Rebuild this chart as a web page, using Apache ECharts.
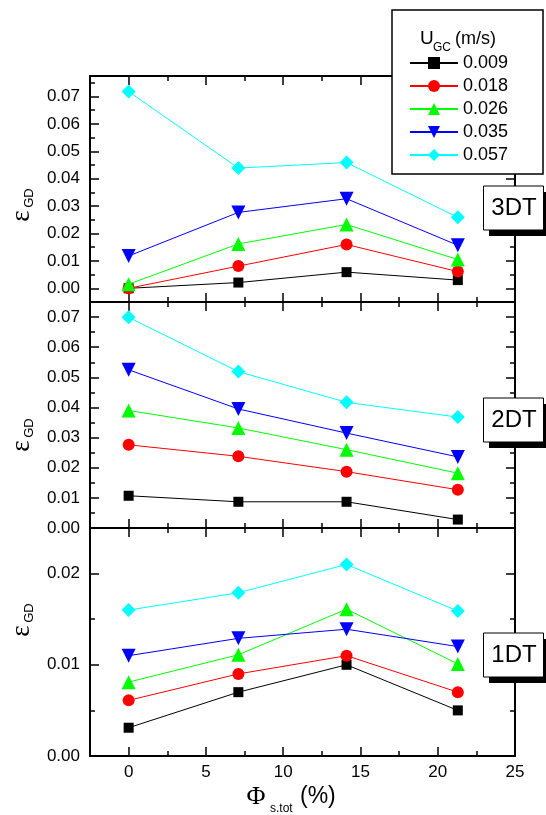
<!DOCTYPE html>
<html><head><meta charset="utf-8">
<script src="https://cdn.jsdelivr.net/npm/echarts@6/dist/echarts.min.js"></script>
<style>html,body{margin:0;padding:0;background:#fff}#c{width:546px;height:815px}</style>
</head><body><div id="c"></div>
<script>
// ---- data ----
const phi = [0, 7.1, 14.1, 21.3];
const ugcNames = ['0.009', '0.018', '0.026', '0.035', '0.057'];
// 3DT (top panel)
const dt3_u009 = [0.0000, 0.0021, 0.0059, 0.0030];
const dt3_u018 = [0.0000, 0.0081, 0.0160, 0.0061];
const dt3_u026 = [0.0015, 0.0162, 0.0233, 0.0105];
const dt3_u035 = [0.0118, 0.0277, 0.0327, 0.0157];
const dt3_u057 = [0.0718, 0.0439, 0.0459, 0.0259];
// 2DT (middle panel)
const dt2_u009 = [0.0107, 0.0087, 0.0087, 0.0028];
const dt2_u018 = [0.0276, 0.0238, 0.0187, 0.0127];
const dt2_u026 = [0.0390, 0.0332, 0.0260, 0.0182];
const dt2_u035 = [0.0525, 0.0395, 0.0315, 0.0236];
const dt2_u057 = [0.0699, 0.0519, 0.0417, 0.0368];
// 1DT (bottom panel)
const dt1_u009 = [0.0031, 0.0070, 0.0100, 0.0050];
const dt1_u018 = [0.0061, 0.0090, 0.0110, 0.0070];
const dt1_u026 = [0.0081, 0.0111, 0.0161, 0.0101];
const dt1_u035 = [0.0110, 0.0129, 0.0139, 0.0120];
const dt1_u057 = [0.0160, 0.0179, 0.0210, 0.0159];
// ticks
const xMajor = [0, 5, 10, 15, 20, 25];
const xMinor = [2.5, 7.5, 12.5, 17.5, 22.5];
const yMajorTop = [0, 0.01, 0.02, 0.03, 0.04, 0.05, 0.06, 0.07];
const yMinorTop = [0.005, 0.015, 0.025, 0.035, 0.045, 0.055, 0.065, 0.075];
const yMajorMid = [0, 0.01, 0.02, 0.03, 0.04, 0.05, 0.06, 0.07];
const yMinorMid = [0.005, 0.015, 0.025, 0.035, 0.045, 0.055, 0.065];
const yMajorBot = [0, 0.01, 0.02];
const yMinorBot = [0.005, 0.015];
const panelNames = ['3DT', '2DT', '1DT'];

// ---- styling / layout ----
const F = '"Liberation Sans", Arial, sans-serif';
const FS = '"Liberation Serif", "DejaVu Serif", serif';
const colors = ['#000000', '#ff0000', '#00ff00', '#0000ff', '#00ffff'];
const symbols = ['rect', 'circle', 'triangle', 'triangle', 'diamond'];
const symRot = [0, 0, 0, 180, 0];
const symSize = [10, 12, 14, 14, 14];
const gridTops = [76, 302, 528];
const gridHeights = [226, 226, 228];
const yRanges = [[-0.005, 0.0775], [0, 0.075], [0, 0.025]];
const yMajors = [yMajorTop, yMajorMid, yMajorBot];
const yMinors = [yMinorTop, yMinorMid, yMinorBot];
const panelData = [
  [dt3_u009, dt3_u018, dt3_u026, dt3_u035, dt3_u057],
  [dt2_u009, dt2_u018, dt2_u026, dt2_u035, dt2_u057],
  [dt1_u009, dt1_u018, dt1_u026, dt1_u035, dt1_u057]
];

const tickStyle = {color: '#000', width: 1.5};
const lineSt = {show: true, onZero: false, lineStyle: {color: '#000', width: 2}};

const grids = [], xAxes = [], yAxes = [], series = [];
for (let p = 0; p < 3; p++) {
  grids.push({left: 90, right: 31, top: gridTops[p], height: gridHeights[p], containLabel: false});
  const xb = {type: 'value', gridIndex: p, min: -2.5, max: 25, splitLine: {show: false}};
  const showX = p === 2;
  xAxes.push(
    Object.assign({}, xb, {position: 'bottom', axisLine: lineSt,
      axisTick: {show: true, inside: true, length: 9, customValues: xMajor, lineStyle: tickStyle},
      axisLabel: {show: showX, customValues: xMajor, margin: 8, fontSize: 17, color: '#000', fontFamily: F}}),
    Object.assign({}, xb, {position: 'bottom', axisLine: {show: false, onZero: false},
      axisTick: {show: true, inside: true, length: 5, customValues: xMinor, lineStyle: tickStyle},
      axisLabel: {show: false}}),
    Object.assign({}, xb, {position: 'top', axisLine: lineSt,
      axisTick: {show: true, inside: true, length: 9, customValues: xMajor, lineStyle: tickStyle},
      axisLabel: {show: false}}),
    Object.assign({}, xb, {position: 'top', axisLine: {show: false, onZero: false},
      axisTick: {show: true, inside: true, length: 5, customValues: xMinor, lineStyle: tickStyle},
      axisLabel: {show: false}})
  );
  const yb = {type: 'value', gridIndex: p, min: yRanges[p][0], max: yRanges[p][1], splitLine: {show: false}};
  yAxes.push(
    Object.assign({}, yb, {position: 'left', axisLine: lineSt,
      axisTick: {show: true, inside: true, length: 9, customValues: yMajors[p], lineStyle: tickStyle},
      axisLabel: {show: true, customValues: yMajors[p], margin: 10, fontSize: 17, color: '#000', fontFamily: F,
        formatter: v => Number(v).toFixed(2)}}),
    Object.assign({}, yb, {position: 'left', axisLine: {show: false, onZero: false},
      axisTick: {show: true, inside: true, length: 5, customValues: yMinors[p], lineStyle: tickStyle},
      axisLabel: {show: false}}),
    Object.assign({}, yb, {position: 'right', axisLine: lineSt,
      axisTick: {show: true, inside: true, length: 9, customValues: yMajors[p], lineStyle: tickStyle},
      axisLabel: {show: false}}),
    Object.assign({}, yb, {position: 'right', axisLine: {show: false, onZero: false},
      axisTick: {show: true, inside: true, length: 5, customValues: yMinors[p], lineStyle: tickStyle},
      axisLabel: {show: false}})
  );
  for (let k = 0; k < 5; k++) {
    series.push({
      type: 'line', name: ugcNames[k], xAxisIndex: 4 * p, yAxisIndex: 4 * p,
      data: phi.map((x, i) => [x, panelData[p][k][i]]),
      symbol: symbols[k], symbolRotate: symRot[k], symbolSize: symSize[k],
      itemStyle: {color: colors[k], opacity: 1},
      lineStyle: {color: colors[k], width: 1},
      z: 2 + k * 0.1, clip: false, animation: false
    });
  }
}

const graphics = [];
// legend box
graphics.push({type: 'rect', z: 100, shape: {x: 392, y: 10, width: 151, height: 164},
  style: {fill: '#fff', stroke: '#000', lineWidth: 1.5}});
graphics.push({type: 'text', z: 105, x: 420, y: 39, style: {text: 'U', font: '19px ' + F, fill: '#000', verticalAlign: 'middle', align: 'left'}});
graphics.push({type: 'text', z: 105, x: 433, y: 48, style: {text: 'GC', font: '12px ' + F, fill: '#000', verticalAlign: 'middle', align: 'left'}});
graphics.push({type: 'text', z: 105, x: 455, y: 39, style: {text: '(m/s)', font: '18px ' + F, fill: '#000', verticalAlign: 'middle', align: 'left'}});
// panel label boxes
const boxTops = [186, 398, 633];
for (let p = 0; p < 3; p++) {
  const t = boxTops[p];
  graphics.push({type: 'rect', z: 100, shape: {x: 489, y: t + 6, width: 70, height: 44}, style: {fill: '#000'}});
  graphics.push({type: 'rect', z: 101, shape: {x: 483.5, y: t, width: 60, height: 44},
    style: {fill: '#fff', stroke: '#000', lineWidth: 1}});
  graphics.push({type: 'text', z: 102, x: 514, y: t + 22, style: {text: panelNames[p], font: '24px ' + F, fill: '#000', align: 'center', verticalAlign: 'middle'}});
}
// y axis titles (rotated)
const epsY = [216, 446, 631];
for (let p = 0; p < 3; p++) {
  graphics.push({type: 'text', z: 50, x: 22, y: epsY[p], rotation: Math.PI / 2,
    style: {text: 'ε', font: '27px ' + FS, fill: '#000', align: 'center', verticalAlign: 'middle'}});
  graphics.push({type: 'text', z: 50, x: 29, y: epsY[p] - 18, rotation: Math.PI / 2,
    style: {text: 'GD', font: '13px ' + F, fill: '#000', align: 'center', verticalAlign: 'middle'}});
}
// x axis title
graphics.push({type: 'text', z: 50, x: 256, y: 797, style: {text: 'Φ', font: '26px ' + FS, fill: '#000', align: 'center', verticalAlign: 'middle'}});
graphics.push({type: 'text', z: 50, x: 270, y: 809, style: {text: 's.tot', font: '12px ' + F, fill: '#000', align: 'left', verticalAlign: 'middle'}});
graphics.push({type: 'text', z: 50, x: 300, y: 797, style: {text: '(%)', font: '23px ' + F, fill: '#000', align: 'left', verticalAlign: 'middle'}});

const chart = echarts.init(document.getElementById('c'), null, {renderer: 'canvas'});
chart.setOption({
  animation: false,
  backgroundColor: '#fff',
  grid: grids, xAxis: xAxes, yAxis: yAxes, series: series,
  legend: {
    data: ugcNames, orient: 'vertical', left: 409, top: 54, padding: 0,
    itemWidth: 48, itemHeight: 15, itemGap: 5, z: 110, selectedMode: false,
    textStyle: {fontSize: 18, fontFamily: F, color: '#000'}
  },
  graphic: {elements: graphics}
});
</script></body></html>
